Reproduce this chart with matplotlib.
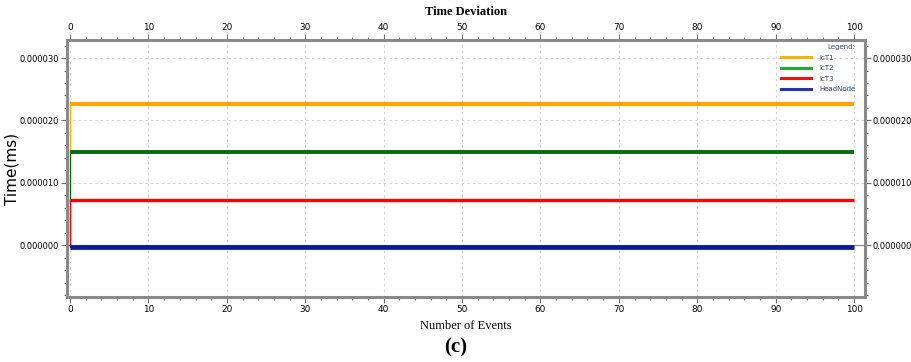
import matplotlib.pyplot as plt
from matplotlib.ticker import MultipleLocator, FormatStrFormatter
import numpy as np

# data
events = np.arange(0, 101)
series_names = ['IcT1', 'IcT2', 'IcT3', 'HeadNode']
series_levels = [22.6e-6, 15.0e-6, 7.3e-6, -0.3e-6]
series_colors = ['#FFA500', '#0A6A0A', '#FF0000', '#0A1A9A']
legend_colors = ['#FFB000', '#22AA33', '#EE1111', '#2233BB']
series_widths = [3.0, 2.8, 2.4, 3.4]

fig = plt.figure(figsize=(9.11, 3.62), dpi=100)
ax = fig.add_axes([0.0735, 0.1796, 0.876, 0.71])

for name, lvl, c, lw in zip(series_names, series_levels, series_colors, series_widths):
    vals = np.full(len(events), lvl)
    ax.plot(events, vals, color=c, lw=lw, solid_capstyle='butt', zorder=3)
    # jump from zero at the first event
    ax.plot([events[0], events[0]], [0, lvl], color=c, lw=0.9, zorder=3)

ax.axhline(0, color='#808080', lw=0.8, zorder=2)

ax.set_xlim(-0.4, 101.4)
ax.set_ylim(-8.3e-6, 32.9e-6)
ax.xaxis.set_major_locator(MultipleLocator(10))
ax.xaxis.set_minor_locator(MultipleLocator(2))
ax.yaxis.set_major_locator(MultipleLocator(10e-6))
ax.yaxis.set_minor_locator(MultipleLocator(2e-6))
ax.yaxis.set_major_formatter(FormatStrFormatter('%.6f'))

ax.tick_params(which='both', direction='out', color='#707070',
               top=True, right=True, labeltop=True, labelright=True,
               labelsize=6.4, pad=2)
ax.tick_params(axis='y', which='both', labelsize=6.0, pad=1.5)
ax.tick_params(which='major', length=4, width=0.8)
ax.tick_params(which='minor', length=2.5, width=0.8)

for s in ax.spines.values():
    s.set_color('#8a8a8a')
    s.set_linewidth(2.2)

ax.grid(which='major', color='#d0d0d0', linestyle=(0, (2, 3)), lw=0.8)

ax.set_ylabel('Time(ms)', fontsize=11)
ax.yaxis.set_label_coords(-0.060, 0.5)
ax.set_xlabel('Number of Events', fontsize=9, family='Liberation Serif', labelpad=4)
ax.set_title('Time Deviation', fontsize=9, family='Liberation Serif',
             fontweight='bold', pad=18)
fig.text(0.5, 0.04, '(c)', ha='center', va='center', fontsize=15,
         family='Liberation Serif', fontweight='bold')

# legend
handles = [plt.Line2D([], [], color=c, lw=2.2) for c in legend_colors]
leg = ax.legend(handles, series_names, loc='upper right', frameon=False,
                fontsize=5, title='Legend:', title_fontsize=5,
                handlelength=4.4, labelspacing=0.65, handletextpad=1.1,
                bbox_to_anchor=(0.993, 1.0), borderaxespad=0.2,
                alignment='right')
leg.get_title().set_color('#334466')
for t in leg.get_texts():
    t.set_color('#334466')

fig.savefig('out.png', dpi=100)
